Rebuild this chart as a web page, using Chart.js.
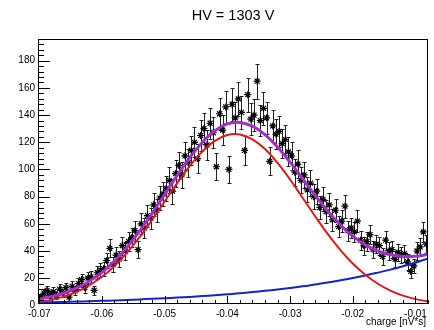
<!DOCTYPE html>
<html>
<head>
<meta charset="utf-8">
<script src="https://cdn.jsdelivr.net/npm/chart.js@4.4.1/dist/chart.umd.min.js"></script>
<style>
  html, body { margin: 0; padding: 0; background: #fff; }
</style>
</head>
<body>
<canvas id="c" width="434" height="330"></canvas>
<script>
// histogram: bin centres start at binStart, one bin every binWidth
const binStart = -0.06975;
const binWidth = 0.0005;
const counts = [
  6, 9, 11, 8,      10, 7, 12, 9,      13, 6, 14, 11,     16, 19, 13, 20,
  21, 11, 24, 26,   27, 33, 42, 30,    37, 34, 44, 40,    47, 50, 55, 41,
  60, 57, 66, 64,   74, 70, 79, 82,    86, 92, 84, 97,    103, 96, 110, 105,
  114, 120, 108, 125, 130, 118, 134, 127, 102, 141, 129, 146, 100, 148, 138, 152,
  142, 114, 155, 137, 140, 165, 136, 145, 138, 106, 132, 126, 128, 119, 122, 113,
  110, 98, 104, 92,  96, 85, 90, 80,    84, 72, 78, 69,    74, 63, 70, 58,
  62, 73, 55, 57,   54, 62, 48, 44,    47, 52, 41, 45,    44, 36, 48, 40,
  41, 34, 39, 37,   38, 32, 25, 29,    40, 43, 54, 45
];

// fit curves
const curveX = [-0.070, -0.068, -0.066, -0.064, -0.062, -0.060, -0.058, -0.056,
  -0.054, -0.052, -0.050, -0.048, -0.046, -0.044, -0.042, -0.040, -0.038, -0.036,
  -0.034, -0.032, -0.030, -0.028, -0.026, -0.024, -0.022, -0.020, -0.018, -0.016,
  -0.014, -0.012, -0.010, -0.008];
const gaussFit = [2.6, 4.2, 6.6, 10.0, 14.8, 21.0, 29.0, 38.8, 50.2, 62.9, 76.4,
  89.9, 102.5, 113.1, 121.0, 125.3, 125.7, 122.1, 115.0, 104.8, 92.6, 79.2, 65.6,
  52.6, 40.9, 30.8, 22.5, 15.9, 10.9, 7.2, 4.6, 2.9];
const bgFit = [2.1, 2.3, 2.5, 2.8, 3.0, 3.3, 3.6, 4.0, 4.4, 4.8, 5.2, 5.7, 6.2,
  6.8, 7.5, 8.2, 8.9, 9.8, 10.7, 11.7, 12.8, 14.0, 15.4, 16.8, 18.4, 20.1, 22.0,
  24.1, 26.3, 28.8, 31.5, 34.5];
const totalFit = [4.7, 6.5, 9.1, 12.8, 17.8, 24.3, 32.6, 42.8, 54.6, 67.7, 81.6,
  95.6, 108.7, 119.9, 128.5, 133.5, 134.6, 131.9, 125.7, 116.5, 105.4, 93.2, 81.0,
  69.4, 59.3, 50.9, 44.5, 40.0, 37.2, 36.0, 36.1, 37.4];

const xTicks = [-0.07, -0.06, -0.05, -0.04, -0.03, -0.02, -0.01];
const yTicks = [0, 20, 40, 60, 80, 100, 120, 140, 160, 180];
const titleText = 'HV = 1303 V';
const xTitle = 'charge [nV*s]';

const FONT = "'Liberation Sans', Arial, Helvetica, sans-serif";
Chart.defaults.font.family = FONT;
Chart.defaults.color = '#000';

const histPoints = counts.map((v, i) => ({ x: binStart + i * binWidth, y: v }));
const curve = arr => curveX.map((x, i) => ({ x: x, y: arr[i] }));

// ROOT look: error bars, inner ticks, frame, titles
const rootStyle = {
  id: 'rootStyle',
  beforeDatasetsDraw(chart) {
    const ctx = chart.ctx, xs = chart.scales.x, ys = chart.scales.y, a = chart.chartArea;
    ctx.save();
    ctx.beginPath();
    ctx.rect(a.left, a.top, a.right - a.left, a.bottom - a.top);
    ctx.clip();
    ctx.strokeStyle = '#222';
    ctx.lineWidth = 1;
    ctx.beginPath();
    histPoints.forEach(p => {
      const e = Math.sqrt(p.y);
      const px = Math.round(xs.getPixelForValue(p.x)) + 0.5;
      const top = Math.round(ys.getPixelForValue(p.y + e)) + 0.5;
      const bot = Math.round(ys.getPixelForValue(Math.max(p.y - e, 0))) + 0.5;
      ctx.moveTo(px, top); ctx.lineTo(px, bot);
      ctx.moveTo(px - 2, top); ctx.lineTo(px + 2, top);
      ctx.moveTo(px - 2, bot); ctx.lineTo(px + 2, bot);
    });
    ctx.stroke();
    ctx.restore();
  },
  afterDraw(chart) {
    const ctx = chart.ctx, xs = chart.scales.x, ys = chart.scales.y, a = chart.chartArea;
    ctx.save();
    ctx.strokeStyle = '#000';
    ctx.lineWidth = 1;
    ctx.beginPath();
    // y ticks
    for (let v = 4; v <= 194; v += 4) {
      const py = Math.round(ys.getPixelForValue(v)) + 0.5;
      const len = (v % 20 === 0) ? 12 : 6;
      ctx.moveTo(a.left, py); ctx.lineTo(a.left + len, py);
    }
    // x ticks
    for (let k = 0; k <= 31; k++) {
      const v = -0.070 + k * 0.002;
      const px = Math.round(xs.getPixelForValue(v)) + 0.5;
      const len = (k % 5 === 0) ? 8 : 4;
      ctx.moveTo(px, a.bottom); ctx.lineTo(px, a.bottom - len);
    }
    ctx.stroke();
    ctx.strokeRect(Math.round(a.left) + 0.5, Math.round(a.top) + 0.5,
      Math.round(a.right - a.left) - 1, Math.round(a.bottom - a.top) - 1);

    ctx.fillStyle = '#000';
    ctx.font = '14.5px ' + FONT;
    ctx.textAlign = 'center';
    ctx.textBaseline = 'middle';
    ctx.fillText(titleText, (a.left + a.right) / 2, 16);
    ctx.font = '10px ' + FONT;
    ctx.textAlign = 'right';
    ctx.fillText(xTitle, a.right - 2, 322);
    ctx.restore();
  }
};

new Chart(document.getElementById('c'), {
  type: 'scatter',
  data: {
    datasets: [
      {
        label: 'total',
        data: curve(totalFit),
        showLine: true,
        borderColor: '#a030c8',
        borderWidth: 3,
        pointRadius: 0,
        tension: 0.4,
        order: 0
      },
      {
        label: 'gauss',
        data: curve(gaussFit),
        showLine: true,
        borderColor: '#e01a1a',
        borderWidth: 2,
        pointRadius: 0,
        tension: 0.4,
        order: 1
      },
      {
        label: 'background',
        data: curve(bgFit),
        showLine: true,
        borderColor: '#1424c8',
        borderWidth: 2,
        pointRadius: 0,
        tension: 0.4,
        order: 2
      },
      {
        label: 'data',
        data: histPoints,
        pointStyle: 'star',
        pointRadius: 3.5,
        borderColor: '#000',
        backgroundColor: '#000',
        borderWidth: 1.2,
        order: 3
      }
    ]
  },
  options: {
    responsive: false,
    animation: false,
    layout: { padding: { top: 39, right: 6, left: 0, bottom: 0 } },
    plugins: {
      legend: { display: false },
      tooltip: { enabled: false }
    },
    scales: {
      x: {
        type: 'linear',
        min: -0.0702,
        max: -0.008,
        grid: { display: false, drawTicks: false },
        border: { display: false },
        afterBuildTicks: s => { s.ticks = xTicks.map(v => ({ value: v })); },
        afterFit: s => { s.height = 26; },
        ticks: {
          font: { size: 10 },
          color: '#000',
          padding: 4,
          maxRotation: 0,
          autoSkip: false,
          callback: v => Number(v).toFixed(2)
        }
      },
      y: {
        type: 'linear',
        min: 1,
        max: 196,
        grid: { display: false, drawTicks: false },
        border: { display: false },
        afterBuildTicks: s => { s.ticks = yTicks.map(v => ({ value: v })); },
        afterFit: s => { s.width = 38; },
        ticks: {
          font: { size: 10 },
          color: '#000',
          padding: 3,
          autoSkip: false
        }
      }
    }
  },
  plugins: [rootStyle]
});
</script>
</body>
</html>
